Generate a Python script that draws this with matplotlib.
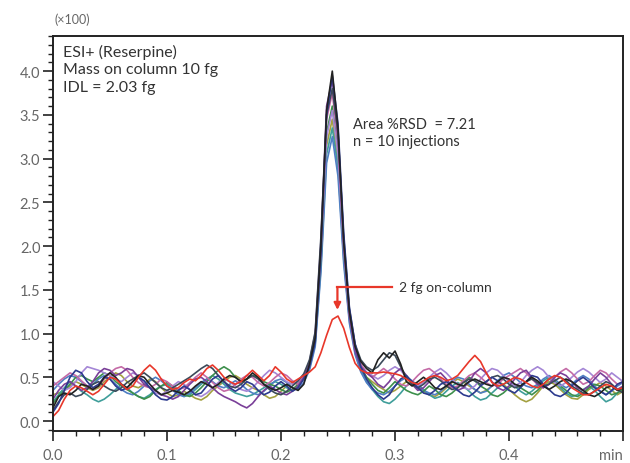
import numpy as np
import matplotlib
matplotlib.use('Agg')
import matplotlib.pyplot as plt
from matplotlib.ticker import MultipleLocator

plt.rcParams['font.family'] = ['Lato', 'DejaVu Sans']

# retention time grid (min), 0.005 min steps
time_min = np.round(np.arange(0, 0.5001, 0.005), 3)

# signal (x100 counts) for the 10 injections at 10 fg
inj_1 = [0.15, 0.28, 0.32, 0.30, 0.35, 0.42, 0.40, 0.36, 0.40, 0.50,
         0.55, 0.50, 0.42, 0.38, 0.45, 0.52, 0.50, 0.42, 0.35, 0.30,
         0.32, 0.35, 0.33, 0.30, 0.34, 0.40, 0.45, 0.42, 0.38, 0.42,
         0.48, 0.52, 0.50, 0.45, 0.48, 0.55, 0.50, 0.42, 0.38, 0.35,
         0.38, 0.42, 0.38, 0.35, 0.42,
         0.65, 0.95, 2.00, 3.55, 4.00, 3.35, 2.05, 1.25, 0.85, 0.68, 0.60, 0.55,
         0.70, 0.78, 0.72,
         0.80, 0.65, 0.45, 0.40, 0.45, 0.50, 0.45, 0.38, 0.36, 0.40,
         0.45, 0.42, 0.40, 0.45, 0.48, 0.45, 0.42, 0.40, 0.45, 0.50,
         0.48, 0.42, 0.40, 0.45, 0.50, 0.46, 0.40, 0.36, 0.40, 0.45,
         0.48, 0.45, 0.40, 0.35, 0.30, 0.28, 0.32, 0.38, 0.40, 0.35, 0.38]
inj_2 = [0.10, 0.20, 0.35, 0.50, 0.58, 0.55, 0.45, 0.38, 0.42, 0.50,
         0.48, 0.40, 0.35, 0.38, 0.45, 0.50, 0.46, 0.38, 0.30, 0.25,
         0.24, 0.28, 0.35, 0.40, 0.36, 0.30, 0.32, 0.40, 0.48, 0.52,
         0.45, 0.38, 0.34, 0.38, 0.45, 0.42, 0.35, 0.30, 0.33, 0.40,
         0.45, 0.40, 0.34, 0.38, 0.48,
         0.62, 0.90, 1.90, 3.50, 3.95, 3.40, 2.15, 1.30, 0.88, 0.62, 0.48, 0.38,
         0.30, 0.25, 0.30,
         0.40, 0.48, 0.52, 0.45, 0.38, 0.32, 0.30, 0.35, 0.42, 0.45,
         0.40, 0.35, 0.30, 0.28, 0.33, 0.40, 0.45, 0.50, 0.46, 0.40,
         0.35, 0.32, 0.38, 0.45, 0.52, 0.50, 0.42, 0.36, 0.30, 0.28,
         0.32, 0.40, 0.46, 0.50, 0.45, 0.38, 0.34, 0.30, 0.35, 0.42, 0.45]
inj_3 = [0.25, 0.35, 0.42, 0.45, 0.40, 0.35, 0.38, 0.45, 0.55, 0.60,
         0.58, 0.52, 0.55, 0.60, 0.58, 0.50, 0.42, 0.38, 0.35, 0.30,
         0.28, 0.25, 0.28, 0.35, 0.42, 0.48, 0.50, 0.45, 0.38, 0.32,
         0.28, 0.25, 0.22, 0.18, 0.15, 0.20, 0.28, 0.35, 0.40, 0.36,
         0.32, 0.30, 0.34, 0.40, 0.50,
         0.68, 1.00, 2.05, 3.60, 3.90, 3.25, 2.00, 1.20, 0.80, 0.62, 0.55, 0.50,
         0.42, 0.38, 0.45,
         0.55, 0.60, 0.52, 0.42, 0.35, 0.38, 0.45, 0.52, 0.55, 0.48,
         0.40, 0.35, 0.38, 0.45, 0.55, 0.60, 0.55, 0.45, 0.38, 0.35,
         0.40, 0.48, 0.55, 0.58, 0.50, 0.42, 0.38, 0.42, 0.50, 0.55,
         0.52, 0.45, 0.38, 0.35, 0.40, 0.48, 0.55, 0.50, 0.42, 0.36, 0.40]
inj_4 = [0.20, 0.28, 0.35, 0.42, 0.50, 0.52, 0.48, 0.45, 0.50, 0.55,
         0.52, 0.45, 0.40, 0.36, 0.32, 0.28, 0.25, 0.28, 0.35, 0.40,
         0.44, 0.40, 0.35, 0.30, 0.28, 0.32, 0.38, 0.45, 0.52, 0.58,
         0.62, 0.58, 0.50, 0.45, 0.48, 0.52, 0.50, 0.45, 0.42, 0.40,
         0.36, 0.33, 0.36, 0.42, 0.52,
         0.66, 0.95, 1.85, 3.30, 3.60, 3.10, 1.95, 1.20, 0.82, 0.62, 0.50, 0.42,
         0.35, 0.32, 0.38,
         0.45, 0.40, 0.35, 0.32, 0.30, 0.34, 0.40, 0.36, 0.30, 0.28,
         0.32, 0.38, 0.45, 0.50, 0.46, 0.40, 0.36, 0.30, 0.28, 0.32,
         0.38, 0.42, 0.38, 0.34, 0.30, 0.35, 0.42, 0.48, 0.45, 0.40,
         0.35, 0.30, 0.28, 0.32, 0.38, 0.42, 0.40, 0.35, 0.30, 0.32, 0.36]
inj_5 = [0.30, 0.32, 0.35, 0.40, 0.45, 0.42, 0.38, 0.35, 0.38, 0.45,
         0.50, 0.55, 0.52, 0.45, 0.40, 0.38, 0.42, 0.48, 0.45, 0.38,
         0.32, 0.28, 0.30, 0.34, 0.30, 0.26, 0.24, 0.28, 0.35, 0.40,
         0.45, 0.50, 0.52, 0.48, 0.42, 0.38, 0.35, 0.30, 0.26, 0.28,
         0.34, 0.40, 0.44, 0.42, 0.48,
         0.62, 0.92, 1.80, 3.15, 3.45, 2.95, 1.90, 1.18, 0.80, 0.60, 0.50, 0.45,
         0.40, 0.36, 0.32,
         0.35, 0.40, 0.45, 0.42, 0.38, 0.34, 0.30, 0.28, 0.32, 0.38,
         0.44, 0.48, 0.45, 0.40, 0.36, 0.32, 0.35, 0.40, 0.45, 0.42,
         0.36, 0.30, 0.25, 0.22, 0.25, 0.32, 0.40, 0.45, 0.42, 0.36,
         0.30, 0.26, 0.25, 0.30, 0.36, 0.40, 0.44, 0.40, 0.35, 0.30, 0.34]
inj_6 = [0.22, 0.30, 0.38, 0.45, 0.40, 0.34, 0.30, 0.25, 0.22, 0.25,
         0.30, 0.36, 0.42, 0.38, 0.32, 0.28, 0.26, 0.30, 0.36, 0.40,
         0.42, 0.38, 0.32, 0.28, 0.30, 0.36, 0.42, 0.48, 0.52, 0.48,
         0.42, 0.36, 0.32, 0.30, 0.28, 0.30, 0.34, 0.38, 0.42, 0.45,
         0.42, 0.38, 0.35, 0.40, 0.50,
         0.60, 0.88, 1.75, 3.05, 3.35, 2.90, 1.85, 1.15, 0.78, 0.58, 0.45, 0.36,
         0.28, 0.22, 0.20,
         0.25, 0.32, 0.40, 0.45, 0.42, 0.36, 0.30, 0.26, 0.28, 0.34,
         0.40, 0.44, 0.40, 0.34, 0.28, 0.24, 0.26, 0.32, 0.38, 0.42,
         0.45, 0.40, 0.34, 0.30, 0.34, 0.40, 0.46, 0.50, 0.45, 0.38,
         0.32, 0.28, 0.30, 0.36, 0.40, 0.35, 0.28, 0.22, 0.25, 0.32, 0.38]
inj_7 = [0.35, 0.42, 0.48, 0.52, 0.50, 0.45, 0.40, 0.42, 0.48, 0.52,
         0.48, 0.42, 0.36, 0.32, 0.30, 0.34, 0.40, 0.46, 0.50, 0.46,
         0.40, 0.35, 0.30, 0.28, 0.32, 0.38, 0.44, 0.48, 0.45, 0.40,
         0.38, 0.42, 0.46, 0.42, 0.36, 0.32, 0.30, 0.34, 0.40, 0.46,
         0.48, 0.44, 0.38, 0.36, 0.44,
         0.58, 0.85, 1.70, 2.95, 3.25, 2.80, 1.80, 1.12, 0.76, 0.56, 0.44, 0.36,
         0.32, 0.30, 0.34,
         0.40, 0.46, 0.50, 0.46, 0.40, 0.35, 0.32, 0.30, 0.34, 0.40,
         0.46, 0.50, 0.48, 0.42, 0.36, 0.32, 0.34, 0.40, 0.46, 0.52,
         0.55, 0.50, 0.44, 0.40, 0.38, 0.42, 0.48, 0.52, 0.48, 0.42,
         0.38, 0.42, 0.48, 0.52, 0.48, 0.40, 0.34, 0.30, 0.34, 0.40, 0.44]
inj_8 = [0.40, 0.45, 0.50, 0.55, 0.52, 0.46, 0.40, 0.36, 0.40, 0.48,
         0.55, 0.60, 0.62, 0.58, 0.50, 0.44, 0.40, 0.38, 0.42, 0.48,
         0.45, 0.40, 0.36, 0.38, 0.44, 0.50, 0.55, 0.50, 0.44, 0.38,
         0.34, 0.36, 0.42, 0.48, 0.52, 0.50, 0.44, 0.40, 0.44, 0.50,
         0.55, 0.52, 0.46, 0.42, 0.50,
         0.64, 0.95, 1.95, 3.45, 3.75, 3.20, 2.05, 1.25, 0.85, 0.65, 0.55, 0.50,
         0.55, 0.60, 0.55,
         0.48, 0.42, 0.40, 0.45, 0.52, 0.58, 0.60, 0.55, 0.48, 0.42,
         0.38, 0.40, 0.46, 0.52, 0.55, 0.50, 0.44, 0.40, 0.42, 0.48,
         0.52, 0.56, 0.60, 0.55, 0.48, 0.42, 0.38, 0.42, 0.50, 0.56,
         0.60, 0.55, 0.48, 0.42, 0.45, 0.52, 0.58, 0.55, 0.48, 0.42, 0.45]
inj_9 = [0.45, 0.40, 0.35, 0.38, 0.45, 0.55, 0.62, 0.60, 0.58, 0.55,
         0.52, 0.48, 0.45, 0.50, 0.55, 0.52, 0.45, 0.38, 0.32, 0.30,
         0.34, 0.40, 0.45, 0.42, 0.36, 0.30, 0.28, 0.32, 0.38, 0.44,
         0.48, 0.45, 0.40, 0.36, 0.34, 0.38, 0.45, 0.52, 0.58, 0.55,
         0.50, 0.45, 0.42, 0.45, 0.52,
         0.66, 0.96, 1.90, 3.25, 3.55, 3.05, 1.95, 1.20, 0.82, 0.64, 0.56, 0.52,
         0.48, 0.52, 0.58,
         0.62, 0.58, 0.50, 0.44, 0.40, 0.44, 0.50, 0.56, 0.60, 0.55,
         0.48, 0.42, 0.38, 0.36, 0.40, 0.48, 0.55, 0.60, 0.58, 0.52,
         0.45, 0.40, 0.44, 0.52, 0.58, 0.62, 0.58, 0.50, 0.44, 0.40,
         0.44, 0.50, 0.56, 0.60, 0.56, 0.50, 0.44, 0.48, 0.55, 0.50, 0.45]
inj_10 = [0.12, 0.22, 0.30, 0.32, 0.28, 0.30, 0.36, 0.42, 0.45, 0.40,
          0.36, 0.34, 0.38, 0.44, 0.48, 0.52, 0.55, 0.50, 0.44, 0.38,
          0.35, 0.38, 0.42, 0.46, 0.50, 0.55, 0.60, 0.64, 0.60, 0.52,
          0.45, 0.40, 0.38, 0.42, 0.48, 0.52, 0.48, 0.42, 0.36, 0.32,
          0.30, 0.34, 0.40, 0.46, 0.54,
          0.70, 1.02, 2.10, 3.50, 3.80, 3.30, 2.10, 1.28, 0.88, 0.70, 0.62, 0.58,
          0.62, 0.70, 0.78,
          0.75, 0.62, 0.50, 0.42, 0.38, 0.42, 0.48, 0.50, 0.46, 0.40,
          0.36, 0.38, 0.44, 0.48, 0.46, 0.42, 0.45, 0.50, 0.52, 0.48,
          0.42, 0.38, 0.40, 0.45, 0.48, 0.44, 0.40, 0.42, 0.46, 0.50,
          0.46, 0.40, 0.36, 0.32, 0.30, 0.34, 0.40, 0.45, 0.42, 0.36, 0.32]

# 2 fg on-column trace
inj_2fg = [0.05, 0.12, 0.25, 0.35, 0.40, 0.38, 0.34, 0.30, 0.34, 0.42,
           0.50, 0.48, 0.42, 0.36, 0.40, 0.50, 0.58, 0.64, 0.58, 0.48,
           0.40, 0.36, 0.38, 0.44, 0.48, 0.46, 0.52, 0.60, 0.64, 0.58,
           0.50, 0.45, 0.42, 0.45, 0.52, 0.58, 0.52, 0.46, 0.52, 0.62,
           0.56, 0.48, 0.44, 0.48, 0.52,
           0.56, 0.62, 0.78, 0.98, 1.16, 1.20, 1.06, 0.84, 0.66, 0.58, 0.55, 0.55,
           0.55, 0.56, 0.55,
           0.54, 0.52, 0.48, 0.44, 0.42, 0.46, 0.50, 0.52, 0.50, 0.46,
           0.48, 0.52, 0.60, 0.68, 0.75, 0.68, 0.55, 0.44, 0.40, 0.42,
           0.46, 0.50, 0.48, 0.44, 0.40, 0.38, 0.42, 0.48, 0.52, 0.50,
           0.44, 0.38, 0.34, 0.30, 0.30, 0.34, 0.38, 0.42, 0.40, 0.36, 0.38]

traces = [inj_5, inj_6, inj_7, inj_4, inj_9, inj_8, inj_3, inj_10, inj_2, inj_1]
colors = ['#a3a040', '#3f9e9a', '#4f7fc4', '#3d8f4c', '#a486d6',
          '#c46aa6', '#7a3f98', '#3c4a5a', '#2c3a8e', '#222222']

fig = plt.figure(figsize=(6.3, 4.64), dpi=100)
ax = fig.add_axes([0.084, 0.069, 0.905, 0.851])

for y, c in zip(traces, colors):
    ax.plot(time_min, y, color=c, lw=1.2)
ax.plot(time_min, inj_2fg, color='#e8372a', lw=1.2)

ax.set_xlim(0, 0.5)
ax.set_ylim(-0.114, 4.4)

ax.xaxis.set_minor_locator(MultipleLocator(0.02))
ax.yaxis.set_minor_locator(MultipleLocator(0.1))
ax.set_xticks([0.0, 0.1, 0.2, 0.3, 0.4, 0.5])
ax.set_xticklabels(['0.0', '0.1', '0.2', '0.3', '0.4', 'min'])
ax.get_xticklabels()[-1].set_horizontalalignment('right')
ax.set_yticks(np.arange(0, 4.01, 0.5))
ax.set_yticklabels([f'{v:.1f}' for v in np.arange(0, 4.01, 0.5)])

ax.tick_params(which='major', direction='out', length=7, width=1.2,
               colors='#222222', labelcolor='#666666', labelsize=10.5)
ax.tick_params(which='minor', direction='out', length=3.5, width=1.0, colors='#222222')
ax.tick_params(axis='x', pad=5)
ax.tick_params(axis='y', pad=2)
for s in ax.spines.values():
    s.set_linewidth(1.4)
    s.set_color('#222222')

fig.text(0.087, 0.958, '(×100)', fontsize=9, color='#666666', va='center')

ax.text(0.009, 4.31, 'ESI+ (Reserpine)\nMass on column 10 fg\nIDL = 2.03 fg',
        fontsize=11.5, color='#333333', va='top', linespacing=1.3)
ax.text(0.2635, 3.48, 'Area %RSD  = 7.21\nn = 10 injections',
        fontsize=10.5, color='#333333', va='top', linespacing=1.3)

# red callout
label_x, label_y = 0.3037, 1.53
corner_x = 0.2495
ax.text(label_x, label_y, '2 fg on-column', fontsize=10, color='#333333', va='center')
ax.plot([label_x - 0.006, corner_x], [label_y, label_y], color='#e8372a', lw=1.6)
ax.annotate('', xy=(corner_x, 1.27), xytext=(corner_x, label_y),
            arrowprops=dict(arrowstyle='-|>', color='#e8372a', lw=1.6,
                            mutation_scale=10, shrinkA=0, shrinkB=0))

fig.savefig('out.png', dpi=100)
